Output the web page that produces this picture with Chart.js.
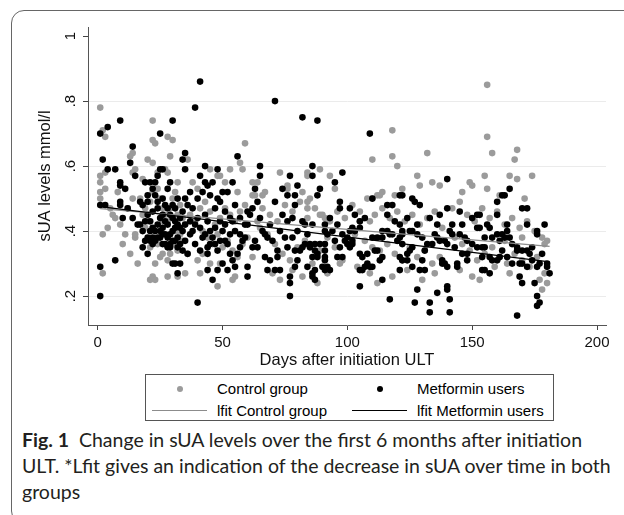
<!DOCTYPE html>
<html>
<head>
<meta charset="utf-8">
<script src="https://cdn.jsdelivr.net/npm/chart.js@4/dist/chart.umd.min.js"></script>
<style>
html,body{margin:0;padding:0;background:#fff;width:624px;height:515px;overflow:hidden;}
body{position:relative;font-family:"Liberation Sans",Arial,sans-serif;}
#frame{position:absolute;left:11px;top:10px;width:700px;height:514px;border:1.5px solid #666;border-radius:13px 0 0 13px;box-sizing:border-box;}
#chart{position:absolute;left:0;top:0;}
#legend{position:absolute;left:145px;top:374px;width:409px;height:47px;border:1px solid #555;box-sizing:border-box;font-size:15px;color:#000;background:#fff;}
.it{position:absolute;white-space:nowrap;line-height:18px;}
.dot{position:absolute;width:6px;height:6px;border-radius:50%;}
.ln{position:absolute;height:1.3px;}
#caption{position:absolute;left:22px;top:427px;font-family:Lato,"Noto Sans",sans-serif;font-size:19.5px;line-height:26px;color:#231f20;white-space:nowrap;}
</style>
</head>
<body>
<div id="frame"></div>
<canvas id="chart" width="624" height="370"></canvas>
<div id="legend">
  <div class="dot" style="left:31px;top:11px;background:#9b9b9b"></div>
  <div class="it" style="left:71px;top:5px">Control group</div>
  <div class="dot" style="left:231px;top:11px;background:#000"></div>
  <div class="it" style="left:271px;top:5px">Metformin users</div>
  <div class="ln" style="left:6px;top:35px;width:55px;background:#8c8c8c"></div>
  <div class="it" style="left:71px;top:27px">lfit Control group</div>
  <div class="ln" style="left:206px;top:35px;width:55px;background:#000"></div>
  <div class="it" style="left:271px;top:27px">lfit Metformin users</div>
</div>
<div id="caption"><b>Fig. 1</b>&nbsp; Change in sUA levels over the first 6 months after initiation<br>ULT. *Lfit gives an indication of the decrease in sUA over time in both<br>groups</div>
<script>
// [days after initiation ULT, sUA mmol/l]
const controlGroup = [
[1,.78],[3,.69],[2,.71],[1,.57],[1,.55],[3,.53],[1,.52],[1,.50],[2,.39],[4,.41],[2,.27],[8,.52],[11,.39],[15,.38],[15,.39],[16,.30],[14,.50],[14,.64],[13,.63],[15,.59],[14,.58],[3,.58],[12,.47],[6,.45],[9,.42],[5,.47],[7,.44],[10,.36],[13,.33],
[22,.74],[22,.68],[23,.67],[28,.69],[30,.68],[29,.63],[20,.62],[22,.61],[24,.58],[27,.59],[28,.58],[32,.55],[36,.62],[21,.25],[22,.26],[23,.25],[28,.26],[32,.26],[35,.27],[36,.33],[17,.50],[18,.45],[19,.47],[21,.49],[22,.52],[24,.53],[25,.50],[26,.47],[27,.45],[28,.43],[29,.47],[30,.50],[31,.52],[33,.48],[34,.44],[35,.42],[24,.36],[26,.33],[28,.31],[29,.33],[30,.36],[32,.34],[33,.39],[34,.37],[19,.41],[21,.35],[23,.30],[25,.32],[20,.43],[31,.40],[26,.43],[18,.56],[32,.45],
[38,.55],[45,.59],[48,.57],[49,.57],[53,.59],[59,.67],[57,.61],[58,.59],[56,.52],[41,.27],[45,.30],[40,.31],[42,.33],[48,.23],[49,.30],[54,.25],[55,.26],[37,.45],[39,.43],[41,.47],[43,.49],[45,.46],[47,.42],[49,.44],[51,.47],[53,.45],[55,.43],[57,.46],[59,.48],[42,.40],[44,.38],[46,.36],[48,.39],[50,.35],[52,.37],[54,.34],[56,.32],[58,.36],[60,.38],[40,.53],[51,.55],
[62,.55],[64,.55],[73,.58],[76,.54],[76,.53],[82,.52],[84,.58],[84,.57],[89,.59],[93,.57],[63,.51],[66,.47],[69,.45],[72,.43],[75,.48],[78,.46],[81,.49],[84,.44],[87,.47],[90,.45],[93,.43],[96,.46],[99,.44],[65,.41],[68,.39],[71,.36],[74,.33],[77,.31],[80,.35],[83,.37],[86,.30],[89,.34],[92,.38],[95,.35],[98,.31],[62,.32],[70,.27],[73,.25],[78,.28],[82,.26],[88,.24],[92,.27],[97,.30],[64,.43],[67,.52],[85,.50],[95,.53],[62,.51],[66,.51],[84,.49],[84,.47],[89,.45],[91,.44],
[110,.62],[118,.71],[118,.63],[120,.60],[114,.52],[122,.53],[128,.57],[129,.54],[132,.64],[134,.55],[137,.54],[102,.48],[105,.46],[108,.50],[111,.45],[114,.47],[117,.44],[120,.46],[123,.43],[126,.45],[129,.42],[132,.44],[135,.46],[138,.41],[103,.39],[107,.37],[110,.35],[113,.34],[116,.36],[119,.33],[122,.31],[125,.35],[128,.32],[131,.34],[134,.30],[137,.32],[104,.29],[109,.27],[112,.24],[118,.26],[124,.28],[130,.25],[135,.27],[105,.43],[109,.43],[112,.51],[113,.51],[119,.51],[110,.50],
[156,.85],[156,.69],[158,.64],[168,.65],[167,.62],[149,.55],[150,.54],[155,.57],[156,.53],[165,.57],[168,.56],[174,.57],[161,.51],[142,.47],[145,.49],[148,.45],[151,.43],[154,.47],[157,.44],[160,.46],[163,.42],[166,.44],[169,.41],[172,.43],[175,.40],[178,.38],[180,.37],[143,.38],[146,.36],[149,.34],[152,.31],[155,.33],[158,.35],[161,.32],[164,.30],[167,.33],[170,.31],[173,.29],[176,.32],[179,.27],[145,.28],[150,.26],[153,.25],[159,.29],[165,.27],[178,.22],[177,.25],[146,.52],[171,.50],[179,.36],[180,.24],[163,.37],[170,.38]
];
const metforminUsers = [
[1,.70],[4,.72],[9,.74],[2,.62],[4,.59],[7,.59],[13,.61],[9,.55],[9,.54],[11,.53],[15,.57],[14,.66],[1,.48],[3,.48],[9,.49],[9,.48],[10,.44],[14,.44],[7,.31],[1,.29],[1,.20],[12,.47],[16,.42],
[17,.49],[18,.48],[17,.42],[18,.35],[20,.33],[19,.37],[20,.38],[21,.37],[22,.38],[23,.37],[20,.45],[21,.43],[22,.46],[24,.47],[25,.44],[26,.41],[27,.43],[28,.42],[29,.45],[30,.44],[31,.41],[25,.40],[27,.39],[28,.38],[29,.36],[30,.40],[24,.38],[26,.36],[28,.35],[29,.35],[31,.30],[30,.30],[32,.27],[33,.30],[23,.55],[24,.57],[25,.59],[26,.59],[21,.55],[22,.53],[25,.70],[30,.74],[20,.51],[23,.51],[26,.50],[28,.53],[29,.55],[19,.55],[27,.48],[24,.49],[22,.41],[23,.40],[26,.45],[30,.48],[31,.47],[32,.50],[20,.49],[29,.39],[31,.37],[32,.38],[33,.36],[34,.40],[35,.42],[33,.44],[34,.46],[35,.50],[36,.48],[37,.43],[35,.37],[37,.39],[36,.33],[24,.42],[25,.38],[27,.36],[21,.40],[19,.43],[18,.40],[31,.43],[32,.42],[33,.41],[28,.47],[34,.34],[22,.36],[26,.39],[32,.35],[30,.37],
[34,.62],[35,.64],[35,.59],[37,.52],[39,.78],[41,.86],[41,.57],[43,.60],[43,.55],[44,.54],[48,.59],[50,.52],[52,.52],[54,.55],[56,.63],[40,.18],[44,.35],[44,.33],[44,.28],[46,.25],[48,.28],[38,.40],[39,.42],[40,.44],[41,.41],[42,.38],[43,.45],[44,.43],[45,.40],[46,.38],[47,.36],[48,.34],[49,.37],[50,.40],[51,.42],[52,.36],[53,.33],[54,.31],[55,.29],[56,.33],[57,.35],[58,.37],[50,.30],[52,.28],[47,.47],[49,.49],[51,.46],[53,.44],[55,.48],[57,.44],[59,.42],[60,.46],[45,.51],[48,.50],[38,.47],[40,.50],[42,.52],[46,.55],[39,.36],[41,.34],[43,.39],[45,.36],[47,.41],[49,.43],[53,.39],[55,.40],[57,.39],[59,.38],[51,.37],[54,.43],
[60,.42],[64,.49],[71,.49],[76,.51],[79,.51],[88,.51],[79,.48],[97,.49],[97,.47],[101,.47],[74,.45],[76,.43],[78,.44],[82,.43],[83,.42],[86,.42],[91,.42],[91,.40],[92,.39],[96,.42],[98,.39],[83,.36],[85,.36],[87,.36],[89,.36],[91,.36],[81,.34],[82,.35],[86,.32],[88,.32],[91,.34],[91,.31],[96,.32],[98,.32],[90,.29],[91,.28],[87,.25],[77,.26],[77,.24],[77,.20],[79,.29],[71,.28],[68,.28],[73,.28],[60,.29],[60,.26],[66,.40],[67,.39],[68,.38],[70,.37],[63,.37],[62,.35],[64,.35],[67,.32],[69,.31],[72,.34],[72,.32],[76,.35],[79,.34],[80,.31],[84,.29],[86,.27],[71,.80],[82,.75],[88,.74],[65,.60],[65,.57],[63,.53],[77,.57],[86,.60],[86,.57],[80,.54],[89,.53],[74,.53],[95,.55],[98,.58],[85,.35],[87,.34],[88,.33],[91,.32],[92,.29],[93,.28],[87,.28],[86,.26],[99,.37],[100,.36],[61,.45],[62,.47],[65,.44],[69,.42],[73,.40],[75,.38],[78,.38],[80,.40],[84,.39],[93,.44],[95,.37],[97,.35],[94,.40],
[109,.70],[102,.37],[102,.36],[105,.43],[105,.41],[105,.28],[107,.29],[109,.29],[105,.23],[114,.25],[117,.19],[114,.32],[110,.38],[112,.38],[114,.38],[116,.45],[116,.48],[118,.48],[121,.51],[121,.42],[122,.40],[110,.50],[122,.51],[126,.50],[127,.49],[129,.48],[124,.44],[136,.42],[135,.39],[136,.38],[137,.37],[139,.37],[140,.36],[132,.36],[131,.34],[130,.31],[129,.28],[128,.22],[127,.18],[133,.18],[133,.15],[136,.21],[140,.23],[140,.22],[121,.32],[121,.28],[122,.31],[124,.33],[125,.34],[126,.35],[124,.31],[120,.37],[121,.38],[125,.40],[126,.40],[128,.39],[130,.38],[134,.36],[105,.33],[106,.32],[108,.33],[108,.30],[110,.29],[106,.28],[101,.35],[100,.38],[101,.40],[102,.41],[103,.40],[112,.34],[111,.34],[113,.31],[114,.40],[116,.40],[117,.39],[118,.39],[122,.39],[122,.36],[126,.29],[131,.28],[138,.31],[138,.30],[139,.30],[140,.29],[103,.45],[107,.44],[119,.43],[128,.42],[133,.44],[137,.45],[140,.47],[140,.56],
[141,.19],[141,.15],[144,.30],[144,.29],[142,.42],[141,.40],[142,.39],[146,.42],[145,.46],[152,.45],[153,.45],[160,.49],[160,.45],[162,.51],[163,.51],[165,.53],[170,.47],[172,.47],[172,.42],[179,.42],[176,.40],[176,.39],[180,.30],[180,.29],[181,.27],[169,.26],[170,.24],[168,.14],[175,.24],[176,.20],[176,.17],[177,.18],[166,.30],[169,.30],[170,.30],[172,.29],[162,.34],[164,.32],[161,.32],[160,.31],[158,.31],[157,.32],[154,.35],[155,.35],[154,.32],[152,.41],[153,.41],[155,.38],[154,.28],[155,.28],[157,.27],[148,.33],[148,.31],[145,.39],[147,.38],[148,.37],[150,.36],[152,.35],[156,.42],[157,.41],[158,.38],[160,.39],[161,.37],[163,.38],[165,.38],[166,.36],[168,.35],[168,.34],[170,.34],[172,.34],[173,.33],[174,.35],[176,.29],[177,.30],[164,.42],[164,.40],[162,.39],[174,.31],[178,.33],[150,.44],[143,.35],[146,.33]
];
// linear fit lines: [start day, end day] and fitted sUA at those days
const fitDays = [1, 181];
const controlFit = [0.469, 0.353];
const metforminFit = [0.475, 0.305];
const xTickValues = [0, 50, 100, 150, 200];
const yTickValues = [0.2, 0.4, 0.6, 0.8, 1];
const yTickLabels = ['.2', '.4', '.6', '.8', '1'];

const toXY = arr => arr.map(p => ({x: p[0], y: p[1]}));
const AX_FONT = '"Liberation Sans", Arial, sans-serif';

const yLabelPlugin = {
  id: 'yLabels',
  afterDraw(chart) {
    const ctx = chart.ctx, ys = chart.scales.y, area = chart.chartArea;
    ctx.save();
    ctx.fillStyle = '#111';
    ctx.textAlign = 'center';
    ctx.textBaseline = 'middle';
    ctx.font = '15px ' + AX_FONT;
    yTickValues.forEach((v, i) => {
      const py = ys.getPixelForValue(v);
      ctx.save();
      ctx.translate(71, py);
      ctx.rotate(-Math.PI / 2);
      ctx.fillText(yTickLabels[i], 0, 0);
      ctx.restore();
    });
    ctx.font = '16.5px ' + AX_FONT;
    ctx.translate(45, (area.top + area.bottom) / 2);
    ctx.rotate(-Math.PI / 2);
    ctx.fillText('sUA levels mmol/l', 0, 0);
    ctx.restore();
  }
};

new Chart(document.getElementById('chart'), {
  type: 'scatter',
  data: {
    datasets: [
      {type: 'line', label: 'lfit Metformin users', data: fitDays.map((d, i) => ({x: d, y: metforminFit[i]})), borderColor: '#000', borderWidth: 1.3, pointRadius: 0, fill: false, order: 0},
      {type: 'line', label: 'lfit Control group', data: fitDays.map((d, i) => ({x: d, y: controlFit[i]})), borderColor: '#8c8c8c', borderWidth: 1.3, pointRadius: 0, fill: false, order: 1},
      {label: 'Metformin users', data: toXY(metforminUsers), backgroundColor: '#000', borderWidth: 0, pointRadius: 3.3, pointHoverRadius: 3.3, order: 2},
      {label: 'Control group', data: toXY(controlGroup), backgroundColor: '#9b9b9b', borderWidth: 0, pointRadius: 3.3, pointHoverRadius: 3.3, order: 3}
    ]
  },
  options: {
    responsive: false,
    animation: false,
    devicePixelRatio: 1,
    events: [],
    layout: {padding: {left: 0, right: 18, top: 27, bottom: 0}},
    plugins: {legend: {display: false}, tooltip: {enabled: false}},
    scales: {
      x: {
        type: 'linear', min: -3.9, max: 203.6,
        afterBuildTicks: s => { s.ticks = xTickValues.map(v => ({value: v})); },
        afterFit: s => { s.height = 45; },
        grid: {drawOnChartArea: false, drawTicks: true, tickLength: 5, tickColor: '#444'},
        border: {display: true, color: '#555', width: 1},
        ticks: {padding: 4, maxRotation: 0, autoSkip: false, color: '#111', font: {family: AX_FONT, size: 15}, callback: v => String(v)},
        title: {display: true, text: 'Days after initiation ULT', color: '#111', font: {family: AX_FONT, size: 16.5}, padding: {top: 0, bottom: 0}}
      },
      y: {
        type: 'linear', min: 0.111, max: 1.028,
        afterBuildTicks: s => { s.ticks = yTickValues.map(v => ({value: v})); },
        afterFit: s => { s.width = 88; },
        grid: {color: c => (c.tick && c.tick.value === 1) ? 'rgba(0,0,0,0)' : '#ebebeb', lineWidth: 1, drawTicks: true, tickLength: 5, tickColor: '#444'},
        border: {display: true, color: '#555', width: 1},
        ticks: {display: false}
      }
    }
  },
  plugins: [yLabelPlugin]
});
</script>
</body>
</html>
